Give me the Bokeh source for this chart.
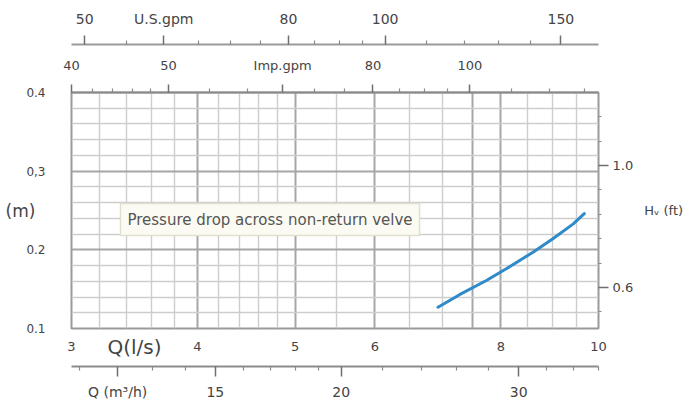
from bokeh.plotting import figure
from bokeh.models import (Range1d, LogScale, LogAxis, LinearAxis, FixedTicker,
                          PrintfTickFormatter, Label, Title)
from bokeh.embed import file_html
from bokeh.resources import INLINE

# ---- data ----
flow_ls = [6.93, 7.28, 7.74, 8.10, 8.61, 9.01, 9.44, 9.68]          # Q (l/s)
head_m = [0.127, 0.143, 0.161, 0.176, 0.197, 0.214, 0.233, 0.246]   # Hv (m)

ls_ticks = [3, 4, 5, 6, 8, 10]
m3h_major = [12, 15, 20, 30]
m3h_labels = ["Q (m³/h)", "15", "20", "30"]
m3h_minor = [11, 13, 14, 16, 17, 18, 19, 22, 24, 26, 28, 32, 34, 36]
us_major = [50, 60, 80, 100, 150]
us_labels = ["50", "U.S.gpm", "80", "100", "150"]
us_minor = [55, 65, 70, 75, 85, 90, 95, 110, 120, 130, 140]
imp_major = [40, 50, 65, 80, 100]
imp_labels = ["40", "50", "Imp.gpm", "80", "100"]
imp_minor = [42, 44, 46, 48, 55, 60, 70, 75, 85, 90, 95, 110, 120, 130]
m_ticks = [0.1, 0.2, 0.3, 0.4]
m_labels = ["0.1", "0.2", "0,3", "0.4"]
ft_major = [0.6, 1.0]
ft_minor = [0.52, 0.68, 0.76, 0.84, 0.92, 1.08, 1.16, 1.24]
xgrid_major = [4, 5, 6, 7.5, 8]
xgrid_minor = [3.2, 3.4, 3.6, 3.8, 4.2, 4.4, 4.6, 4.8, 5.5, 6.5, 7, 8.5, 9, 9.5]
ygrid_major = [0.2, 0.3]
ygrid_minor = [0.12, 0.14, 0.16, 0.18, 0.22, 0.24, 0.26, 0.28, 0.32, 0.34, 0.36, 0.38]
legend_text = "Pressure drop across non-return velve"

FONT = "DejaVu Sans"
TXT = "#444444"
AX = "#8c8c8c"

p = figure(width=686, height=404, x_axis_type="log",
           x_range=Range1d(3, 10), y_range=Range1d(0.1, 0.4),
           output_backend="svg", toolbar_location=None,
           min_border_left=71, min_border_right=87,
           min_border_top=92, min_border_bottom=76)
p.background_fill_color = "white"
p.border_fill_color = "white"
p.outline_line_color = "#9a9a9a"
p.outline_line_width = 2

p.extra_x_ranges = {"imp": Range1d(40, 134.4), "us": Range1d(48.5, 163.6),
                    "m3h": Range1d(10.8, 36)}
p.extra_x_scales = {"imp": LogScale(), "us": LogScale(), "m3h": LogScale()}
p.extra_y_ranges = {"ft": Range1d(0.4656, 1.2393)}

# grids
p.xgrid.ticker = FixedTicker(ticks=xgrid_major, minor_ticks=xgrid_minor)
p.ygrid.ticker = FixedTicker(ticks=ygrid_major, minor_ticks=ygrid_minor)
for g in (p.xgrid, p.ygrid):
    g.grid_line_color = "#a6a6a6"
    g.grid_line_width = 2
    g.minor_grid_line_color = "#cdcdcd"
    g.minor_grid_line_width = 1.4


def style_axis(ax, size="13px"):
    ax.major_label_text_font = FONT
    ax.major_label_text_font_size = size
    ax.major_label_text_color = TXT
    ax.axis_label_text_font = FONT
    ax.axis_label_text_font_style = "normal"
    ax.axis_label_text_color = TXT
    ax.major_tick_in = 0
    ax.minor_tick_in = 0
    ax.major_tick_line_color = "#6f6f6f"
    ax.minor_tick_line_color = "#8a8a8a"
    ax.major_tick_line_width = 1.5
    ax.minor_tick_line_width = 1.2


# bottom: l/s (nearest the frame)
ax_ls = p.xaxis[0]
ax_ls.ticker = FixedTicker(ticks=ls_ticks, minor_ticks=[])
ax_ls.formatter = PrintfTickFormatter(format="%d")
style_axis(ax_ls, "13px")
ax_ls.axis_line_color = None
ax_ls.major_tick_out = 0
ax_ls.minor_tick_out = 0
ax_ls.major_tick_line_color = None
ax_ls.minor_tick_line_color = None
ax_ls.major_label_standoff = 13
ax_ls.axis_label = " "
ax_ls.axis_label_text_font_size = "1px"
ax_ls.axis_label_standoff = -30

# "Q(l/s)" title in the same row as the l/s tick labels
p.add_layout(Title(text="Q(l/s)", align="left", offset=36, standoff=12,
                   vertical_align="top", text_font=FONT, text_font_size="20px",
                   text_font_style="normal", text_color=TXT), "below")

# bottom: m3/h
ax_m3h = LogAxis(x_range_name="m3h",
                 ticker=FixedTicker(ticks=m3h_major, minor_ticks=m3h_minor),
                 formatter=PrintfTickFormatter(format="%d"))
ax_m3h.major_label_overrides = dict(zip(m3h_major, m3h_labels))
style_axis(ax_m3h, "14px")
ax_m3h.axis_line_color = AX
ax_m3h.axis_line_width = 2
ax_m3h.major_tick_out = 10
ax_m3h.minor_tick_out = 4
ax_m3h.major_label_standoff = 7
p.add_layout(ax_m3h, "below")

# left: m
ax_m = p.yaxis[0]
ax_m.ticker = FixedTicker(ticks=m_ticks, minor_ticks=[])
ax_m.major_label_overrides = dict(zip(m_ticks, m_labels))
style_axis(ax_m, "12px")
ax_m.axis_line_color = None
ax_m.major_tick_out = 0
ax_m.minor_tick_out = 0
ax_m.major_tick_line_color = None
ax_m.minor_tick_line_color = None
ax_m.major_label_standoff = 26
ax_m.axis_label = "(m)"
ax_m.axis_label_orientation = "horizontal"
ax_m.axis_label_text_font_size = "17px"
ax_m.axis_label_standoff = -12

# right: ft
ax_ft = LinearAxis(y_range_name="ft",
                   ticker=FixedTicker(ticks=ft_major, minor_ticks=ft_minor),
                   formatter=PrintfTickFormatter(format="%.1f"))
style_axis(ax_ft, "13px")
ax_ft.axis_line_color = None
ax_ft.major_tick_out = 10
ax_ft.minor_tick_out = 3
ax_ft.major_label_standoff = 4
ax_ft.axis_label = "Hᵥ (ft)"
ax_ft.axis_label_orientation = "horizontal"
ax_ft.axis_label_text_font_size = "13px"
ax_ft.axis_label_standoff = 8
p.add_layout(ax_ft, "right")

# top: Imp.gpm (nearest the frame)
ax_imp = LogAxis(x_range_name="imp",
                 ticker=FixedTicker(ticks=imp_major, minor_ticks=imp_minor),
                 formatter=PrintfTickFormatter(format="%d"))
ax_imp.major_label_overrides = dict(zip(imp_major, imp_labels))
style_axis(ax_imp, "13px")
ax_imp.axis_line_color = AX
ax_imp.axis_line_width = 2
ax_imp.major_tick_out = 8
ax_imp.minor_tick_out = 4
ax_imp.major_label_standoff = 12
ax_imp.axis_label = " "
ax_imp.axis_label_text_font_size = "12px"
ax_imp.axis_label_standoff = -7
p.add_layout(ax_imp, "above")

# top: U.S.gpm
ax_us = LogAxis(x_range_name="us",
                ticker=FixedTicker(ticks=us_major, minor_ticks=us_minor),
                formatter=PrintfTickFormatter(format="%d"))
ax_us.major_label_overrides = dict(zip(us_major, us_labels))
style_axis(ax_us, "14px")
ax_us.axis_line_color = "#9a9a9a"
ax_us.axis_line_width = 2
ax_us.major_tick_out = 9
ax_us.minor_tick_out = 4
ax_us.major_label_standoff = 9
p.add_layout(ax_us, "above")

# curve
p.line(flow_ls, head_m, line_color="#2e8ac9", line_width=3, line_cap="round")

# legend-like box
p.add_layout(Label(x=3.355, y=0.2385, text=legend_text, text_font=FONT,
                   text_font_size="15px", text_color="#555555",
                   text_baseline="middle", text_align="left",
                   background_fill_color="#fbfbf3", border_line_color="#e2dfcf",
                   border_line_width=1.5, padding=7))

open("out.html", "w").write(file_html(p, INLINE))
